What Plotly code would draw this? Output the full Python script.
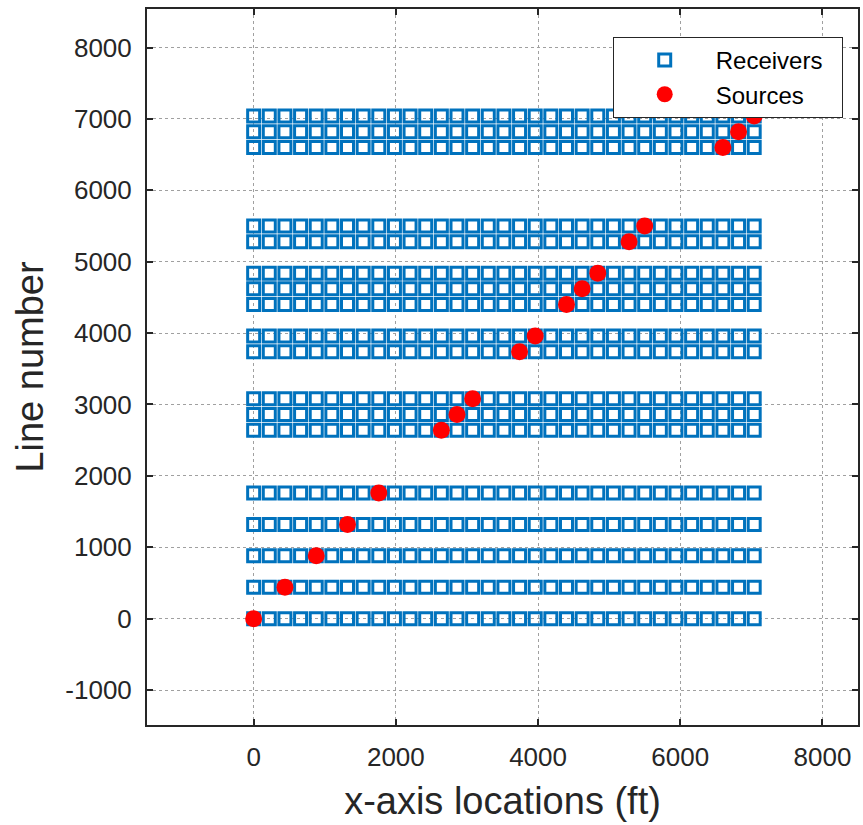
import plotly.graph_objects as go

# Receiver line (row) y-positions, in ft
receiver_lines = [0, 440, 880, 1320, 1760, 2640, 2860, 3080, 3740, 3960,
                  4400, 4620, 4840, 5280, 5500, 6600, 6820, 7040]
# Receiver x-positions along each line (ft), 220 ft spacing
receiver_stations = [i * 220 for i in range(33)]
# Source locations
source_x = [0, 440, 880, 1320, 1760, 2640, 2860, 3080, 3740, 3960,
            4400, 4620, 4840, 5280, 5500, 6600, 6820, 7040]
source_y = [0, 440, 880, 1320, 1760, 2640, 2860, 3080, 3740, 3960,
            4400, 4620, 4840, 5280, 5500, 6600, 6820, 7040]

y_tick_vals = [-1000, 0, 1000, 2000, 3000, 4000, 5000, 6000, 7000, 8000]
y_tick_text = ["-1000", "0", "1000", "2000", "3000", "4000", "5000",
               "6000", "7000", "8000"]
x_tick_vals = [0, 2000, 4000, 6000, 8000]
x_tick_text = ["0", "2000", "4000", "6000", "8000"]

rx, ry = [], []
for yl in receiver_lines:
    for xs in receiver_stations:
        rx.append(xs)
        ry.append(yl)

FONT = "Liberation Sans, Arial"
INK = "#262626"

fig = go.Figure()
fig.add_trace(go.Scatter(
    x=rx, y=ry, mode="markers", name="Receivers\u00a0\u00a0",
    marker=dict(symbol="square-open", size=12, color="#0072BD",
                line=dict(width=3, color="#0072BD")),
))
fig.add_trace(go.Scatter(
    x=source_x, y=source_y, mode="markers", name="Sources",
    marker=dict(symbol="circle", size=17, color="#FF0000",
                line=dict(width=0)),
))

axis_common = dict(
    showgrid=True, gridcolor="#a0a0a0", griddash="dot", gridwidth=1,
    zeroline=False, showline=True, linecolor=INK, linewidth=2,
    mirror="ticks", ticks="inside", ticklen=6, tickwidth=2,
    tickcolor=INK, ticklabelstandoff=8,
    tickfont=dict(family=FONT, size=26, color=INK),
)

fig.update_layout(
    width=863, height=825,
    margin=dict(l=147, r=3, t=9, b=100),
    paper_bgcolor="white", plot_bgcolor="white",
    xaxis=dict(range=[-1500, 8500], tickvals=x_tick_vals, ticktext=x_tick_text,
               title=dict(text="x-axis locations (ft)", standoff=16,
                          font=dict(family=FONT, size=38, color=INK)),
               **axis_common),
    yaxis=dict(range=[-1490, 8540], tickvals=y_tick_vals, ticktext=y_tick_text,
               title=dict(text="Line number", standoff=10,
                          font=dict(family=FONT, size=38, color=INK)),
               **axis_common),
    legend=dict(x=0.655, y=0.961, xanchor="left", yanchor="top",
                bgcolor="white", bordercolor=INK, borderwidth=1,
                font=dict(family=FONT, size=24, color="#000000"),
                itemwidth=92, tracegroupgap=0),
    showlegend=True,
)

fig.write_html("out.html")
